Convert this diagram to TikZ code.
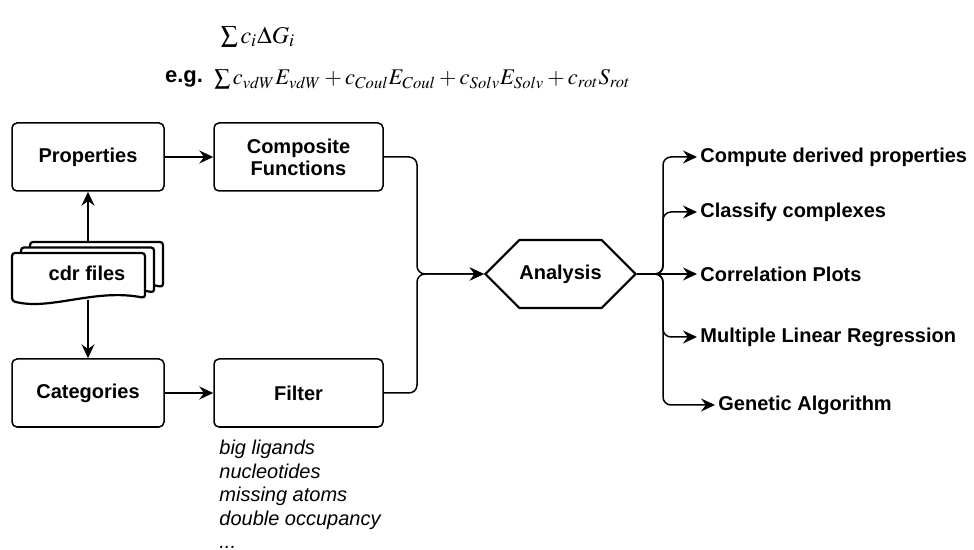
\documentclass[tikz,border=0pt]{standalone}
\usepackage{mathptmx}
\usepackage[no-math]{fontspec}
\setmainfont{Liberation Sans}
\usepackage{tikz}
\usetikzlibrary{shapes.symbols}
\usetikzlibrary{arrows.meta}

\tikzset{
    box/.style = {draw, rounded corners = 2.5pt, line width = 0.75pt,
        minimum width = 76pt, minimum height = 34pt, font = \bfseries, align = center},
    hexa/.style = {draw, signal, signal to = east and west, signal pointer angle = 90,
        line width = 1.1pt, inner xsep = 0pt, minimum height = 34pt, font = \bfseries},
    link/.style = {-{Stealth[length = 7pt, width = 6.5pt, inset = 2.4pt]},
        line width = 0.75pt, rounded corners = 4pt},
    outtext/.style = {anchor = west, font = \bfseries, inner sep = 1.5pt}
}

\begin{document}
\begin{tikzpicture}[x = 0.5pt, y = -0.5pt]
        \useasboundingbox (0, 0) rectangle (974, 550);

        % scoring function
        \node (sumgen) at (258, 37) {\large $\sum c_i \Delta G_i$};
        \node (eg) at (184, 79) {\fontsize{11}{13}\selectfont\bfseries e.g.};
        \node[anchor = west, inner sep = 0pt] (sumex) at (214, 79)
            {\fontsize{11.2}{13}\selectfont $\sum c_{vdW}E_{vdW} + c_{Coul}E_{Coul} + c_{Solv}E_{Solv} + c_{rot}S_{rot}$};

        % input files
        \filldraw[fill = white, line width = 1.1pt, rounded corners = 1.5pt, shift = {(18, -11)}]
            (12, 301) -- (12, 253) -- (145, 253) -- (145, 298)
            .. controls (95, 288) and (50, 311) .. cycle;
        \filldraw[fill = white, line width = 1.1pt, rounded corners = 1.5pt, shift = {(9, -5.5)}]
            (12, 301) -- (12, 253) -- (145, 253) -- (145, 298)
            .. controls (95, 288) and (50, 311) .. cycle;
        \filldraw[fill = white, line width = 1.1pt, rounded corners = 1.5pt]
            (12, 301) -- (12, 253) -- (145, 253) -- (145, 298)
            .. controls (95, 288) and (50, 311) .. cycle;
        \node[font = \bfseries] (cdr) at (87, 273) {cdr files};
        \coordinate (cdrtop) at (88, 242);
        \coordinate (cdrbot) at (88, 300);

        % boxes
        \node[box] (prop) at (88, 157) {Properties};
        \node[box, minimum width = 84.5pt] (comp) at (298.5, 157) {Composite\\[-1pt]Functions};
        \node[box] (cat) at (88, 393) {Categories};
        \node[box, minimum width = 84.5pt] (filt) at (298.5, 393) {Filter};
        \node[anchor = north west, align = left, font = \itshape, inner sep = 0pt] (notes)
            at (219, 440) {big ligands\\[-0.3pt]nucleotides\\[-0.3pt]missing atoms\\[-0.3pt]double occupancy\\[-0.3pt]...};

        \node[hexa] (ana) at (560.5, 274) {Analysis};
        \coordinate (join) at (417, 274);
        \coordinate (fork) at (663, 274);

        % results
        \node[outtext] (o1) at (697, 157) {Compute derived properties};
        \node[outtext] (o2) at (697, 212) {Classify complexes};
        \node[outtext] (o3) at (697, 274) {Correlation Plots};
        \node[outtext] (o4) at (697, 337) {Multiple Linear Regression};
        \node[outtext] (o5) at (715, 405) {Genetic Algorithm};

        % connectors
        \draw[link] (cdrtop) -- (prop.south);
        \draw[link] (cdrbot) -- (cat.north);
        \draw[link] (prop.east) -- (comp.west);
        \draw[link] (cat.east) -- (filt.west);
        \draw[link] (comp.east) -| (join) -- (ana.west);
        \draw[link] (filt.east) -| (join) -- (ana.west);
        \draw[link] (ana.east) -- (fork) |- (o1.west);
        \draw[link] (ana.east) -- (fork) |- (o2.west);
        \draw[link] (ana.east) -- (o3.west);
        \draw[link] (ana.east) -- (fork) |- (o4.west);
        \draw[link] (ana.east) -- (fork) |- (o5.west);
    \end{tikzpicture}
\end{document}
